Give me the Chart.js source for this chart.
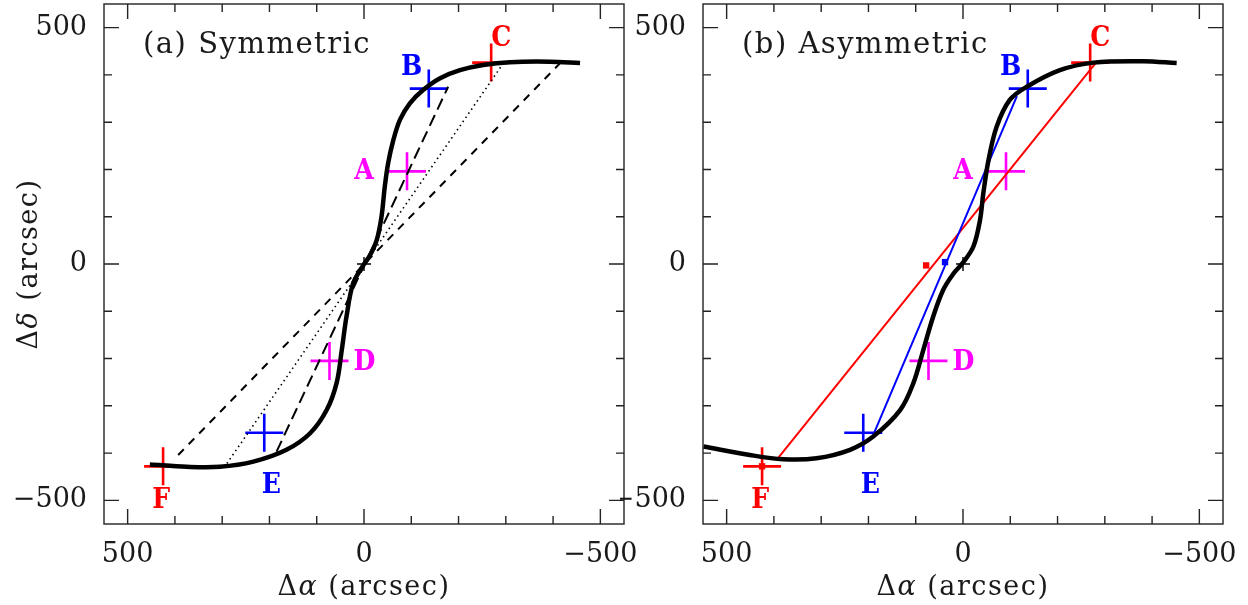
<!DOCTYPE html>
<html>
<head>
<meta charset="utf-8">
<script src="https://cdn.jsdelivr.net/npm/chart.js@4.4.0/dist/chart.umd.min.js"></script>
<style>
  body { margin: 0; background: #fff; width: 1248px; height: 605px; overflow: hidden; position: relative; }
  .panel { position: absolute; top: 0; height: 605px; }
  #wrapA { left: 0; width: 640px; }
  #wrapB { left: 620px; width: 628px; }
</style>
</head>
<body>
<div class="panel" id="wrapA"><canvas id="chartA" width="640" height="605"></canvas></div>
<div class="panel" id="wrapB"><canvas id="chartB" width="628" height="605"></canvas></div>
<script>
'use strict';

// axis ticks (both axes, both panels)
let tickValues = [-500, -400, -300, -200, -100, 0, 100, 200, 300, 400, 500];
let majorTicks = [-500, 0, 500];

// measured positions A..F, same in both panels
let crossNames = ['A', 'B', 'C', 'D', 'E', 'F'];
let crossX = [-91, -137, -269, 73, 211, 425];
let crossY = [196, 371, 426, -205, -357, -428];
let crossColors = ['#ff00ff', '#0000ff', '#ff0000', '#ff00ff', '#0000ff', '#ff0000'];

// (a) symmetric model curve
let symX = [453, 375, 305, 234, 164, 114, 79, 58, 47, 37, 23, 1, -13, -27, -37, -44, -51, -62, -76, -97, -125, -161, -203, -252, -309, -393, -457];
let symY = [-424, -429, -429, -418, -393, -358, -309, -252, -182, -111, -41, -2, 19, 51, 100, 164, 213, 262, 305, 340, 368, 393, 410, 421, 427, 428, 425];

// (a) straight lines through the centre
let longDashX = [185, -178];
let longDashY = [-397, 375];
let dottedX = [290, -295];
let dottedY = [-422, 425];
let shortDashX = [393, -415];
let shortDashY = [-404, 425];

// (b) asymmetric model curve
let asymX = [549, 451, 380, 310, 239, 190, 133, 105, 84, 63, 42, 20, 0, -22, -36, -43, -54, -71, -99, -135, -205, -276, -381, -452];
let asymY = [-386, -404, -413, -411, -393, -365, -309, -252, -182, -111, -55, -20, 3, 37, 93, 150, 220, 290, 347, 375, 410, 426, 429, 425];

// (b) chords and their centres
let redLineX = [393, -283];
let redLineY = [-413, 428];
let blueLineX = [190, -114];
let blueLineY = [-362, 355];
let redSquareX = [78, 425];
let redSquareY = [-3, -428];
let blueSquareX = [38];
let blueSquareY = [4];


function pts(xs, ys) {
    return xs.map(function (x, i) { return { x: x, y: ys[i] }; });
}

function tickText(v) {
    if (majorTicks.indexOf(v) < 0) return '';
    return v < 0 ? '\u2212' + Math.abs(v) : String(v);
}

function setTicks(scale) {
    scale.ticks = tickValues.map(function (v) { return { value: v }; });
}

let tickFont = { family: 'DejaVu Serif', size: 27 };

function makeScales(yWidth) {
    return {
        x: {
            type: 'linear', min: -550, max: 550, reverse: true,
            afterBuildTicks: setTicks,
            afterFit: function (s) {
                s.height = 81;
                s.paddingLeft = 0; s.paddingRight = 0;
            },
            grid: { display: false, drawTicks: false },
            border: { display: false },
            ticks: { autoSkip: false, maxRotation: 0, padding: 15, color: '#1a1a1a', font: tickFont, callback: tickText }
        },
        y: {
            type: 'linear', min: -550, max: 550, position: 'left',
            afterBuildTicks: setTicks,
            afterFit: function (s) {
                s.width = yWidth;
                s.paddingTop = 0; s.paddingBottom = 0;
            },
            grid: { display: false, drawTicks: false },
            border: { display: false },
            ticks: { autoSkip: false, padding: 17, color: '#1a1a1a', font: tickFont, callback: tickText }
        }
    };
}

// text made of upright and italic pieces
function drawMixed(ctx, parts, size, cx, cy, rotate) {
    ctx.save();
    ctx.translate(cx, cy);
    if (rotate) ctx.rotate(-Math.PI / 2);
    ctx.letterSpacing = '1.5px';
    let total = 0;
    let widths = [];
    parts.forEach(function (p) {
        ctx.font = (p[1] ? 'italic ' : '') + size + 'px "DejaVu Serif"';
        let w = ctx.measureText(p[0]).width;
        widths.push(w);
        total += w;
    });
    let x = -total / 2;
    ctx.fillStyle = '#1a1a1a';
    ctx.textBaseline = 'alphabetic';
    parts.forEach(function (p, i) {
        ctx.font = (p[1] ? 'italic ' : '') + size + 'px "DejaVu Serif"';
        ctx.fillText(p[0], x, 0);
        x += widths[i];
    });
    ctx.restore();
}

let labelDx = [-43, -17, 10, 35, 7, -2];
let labelDy = [-2, -24, -27, -1, 50, 32];

function framePlugin(title, withYTitle) {
    return {
        id: 'frame',
        afterDraw: function (chart) {
            let ctx = chart.ctx;
            let a = chart.chartArea;
            let sx = chart.scales.x;
            let sy = chart.scales.y;
            ctx.save();
            ctx.strokeStyle = '#222';
            ctx.lineWidth = 1.4;
            ctx.strokeRect(a.left, a.top, a.right - a.left, a.bottom - a.top);
            ctx.beginPath();
            sx.ticks.forEach(function (t) {
                let len = majorTicks.indexOf(t.value) >= 0 ? 15 : 8;
                let px = sx.getPixelForValue(t.value);
                ctx.moveTo(px, a.bottom); ctx.lineTo(px, a.bottom - len);
                ctx.moveTo(px, a.top); ctx.lineTo(px, a.top + len);
            });
            sy.ticks.forEach(function (t) {
                let len = majorTicks.indexOf(t.value) >= 0 ? 15 : 8;
                let py = sy.getPixelForValue(t.value);
                ctx.moveTo(a.left, py); ctx.lineTo(a.left + len, py);
                ctx.moveTo(a.right, py); ctx.lineTo(a.right - len, py);
            });
            ctx.stroke();

            // letters next to the crosses
            ctx.font = 'bold 28px "DejaVu Serif Condensed", "DejaVu Serif"';
            ctx.textAlign = 'center';
            ctx.textBaseline = 'alphabetic';
            crossNames.forEach(function (n, i) {
                ctx.fillStyle = crossColors[i];
                let px = sx.getPixelForValue(crossX[i]) + labelDx[i];
                let py = sy.getPixelForValue(crossY[i]) + labelDy[i];
                ctx.fillText(n, px, py + 10);
            });

            // panel title
            ctx.fillStyle = '#1a1a1a';
            ctx.textAlign = 'left';
            ctx.letterSpacing = '1.5px';
            ctx.font = '29px "DejaVu Serif"';
            ctx.fillText(title, a.left + 39, 53);
            ctx.restore();

            let cx = (a.left + a.right) / 2;
            drawMixed(ctx, [['\u0394', false], ['\u03b1', true], [' (arcsec)', false]], 27, cx, 595, false);
            if (withYTitle) {
                drawMixed(ctx, [['\u0394', false], ['\u03b4', true], [' (arcsec)', false]], 27, 37, (a.top + a.bottom) / 2, true);
            }
        }
    };
}

function crossSet() {
    return {
        data: pts(crossX, crossY), pointStyle: 'cross', pointRadius: 19, pointHoverRadius: 19,
        pointBorderWidth: 2.6, pointBorderColor: crossColors, showLine: false
    };
}

function originSet() {
    return {
        data: [{ x: 0, y: 0 }], pointStyle: 'cross', pointRadius: 7, pointBorderWidth: 1.4,
        pointBorderColor: '#000', showLine: false
    };
}

function lineSet(xs, ys, color, width, dash, tension) {
    return {
        data: pts(xs, ys), showLine: true, borderColor: color, borderWidth: width,
        borderDash: dash, tension: tension, pointRadius: 0, pointHoverRadius: 0, fill: false
    };
}

function squareSet(xs, ys, color, r) {
    return {
        data: pts(xs, ys), pointStyle: 'rect', pointRadius: r, pointHoverRadius: r,
        pointBackgroundColor: color, pointBorderWidth: 0, showLine: false
    };
}

let commonOptions = function (yWidth, padRight) {
    return {
        responsive: false,
        animation: false,
        events: [],
        layout: { autoPadding: false, padding: { left: 0, top: 4, right: padRight, bottom: 0 } },
        plugins: { legend: { display: false }, tooltip: { enabled: false } },
        scales: makeScales(yWidth)
    };
};

// panel (a)
new Chart(document.getElementById('chartA').getContext('2d'), {
    type: 'scatter',
    data: {
        datasets: [
            originSet(),
            lineSet(symX, symY, '#000', 4.5, [], 0.35),
            lineSet(longDashX, longDashY, '#000', 2, [12, 6], 0),
            lineSet(dottedX, dottedY, '#000', 1.6, [1.5, 3.5], 0),
            lineSet(shortDashX, shortDashY, '#000', 2, [8, 7], 0),
            crossSet()
        ]
    },
    options: commonOptions(104, 16),
    plugins: [framePlugin('(a) Symmetric', true)]
});

// panel (b)
new Chart(document.getElementById('chartB').getContext('2d'), {
    type: 'scatter',
    data: {
        datasets: [
            originSet(),
            lineSet(asymX, asymY, '#000', 4.5, [], 0.35),
            squareSet(redSquareX, redSquareY, '#ff0000', 4.5),
            squareSet(blueSquareX, blueSquareY, '#0000ff', 4.5),
            lineSet(blueLineX, blueLineY, '#0000ff', 2, [], 0),
            lineSet(redLineX, redLineY, '#ff0000', 2, [], 0),
            crossSet()
        ]
    },
    options: commonOptions(83, 25),
    plugins: [framePlugin('(b) Asymmetric', false)]
});
</script>
</body>
</html>
